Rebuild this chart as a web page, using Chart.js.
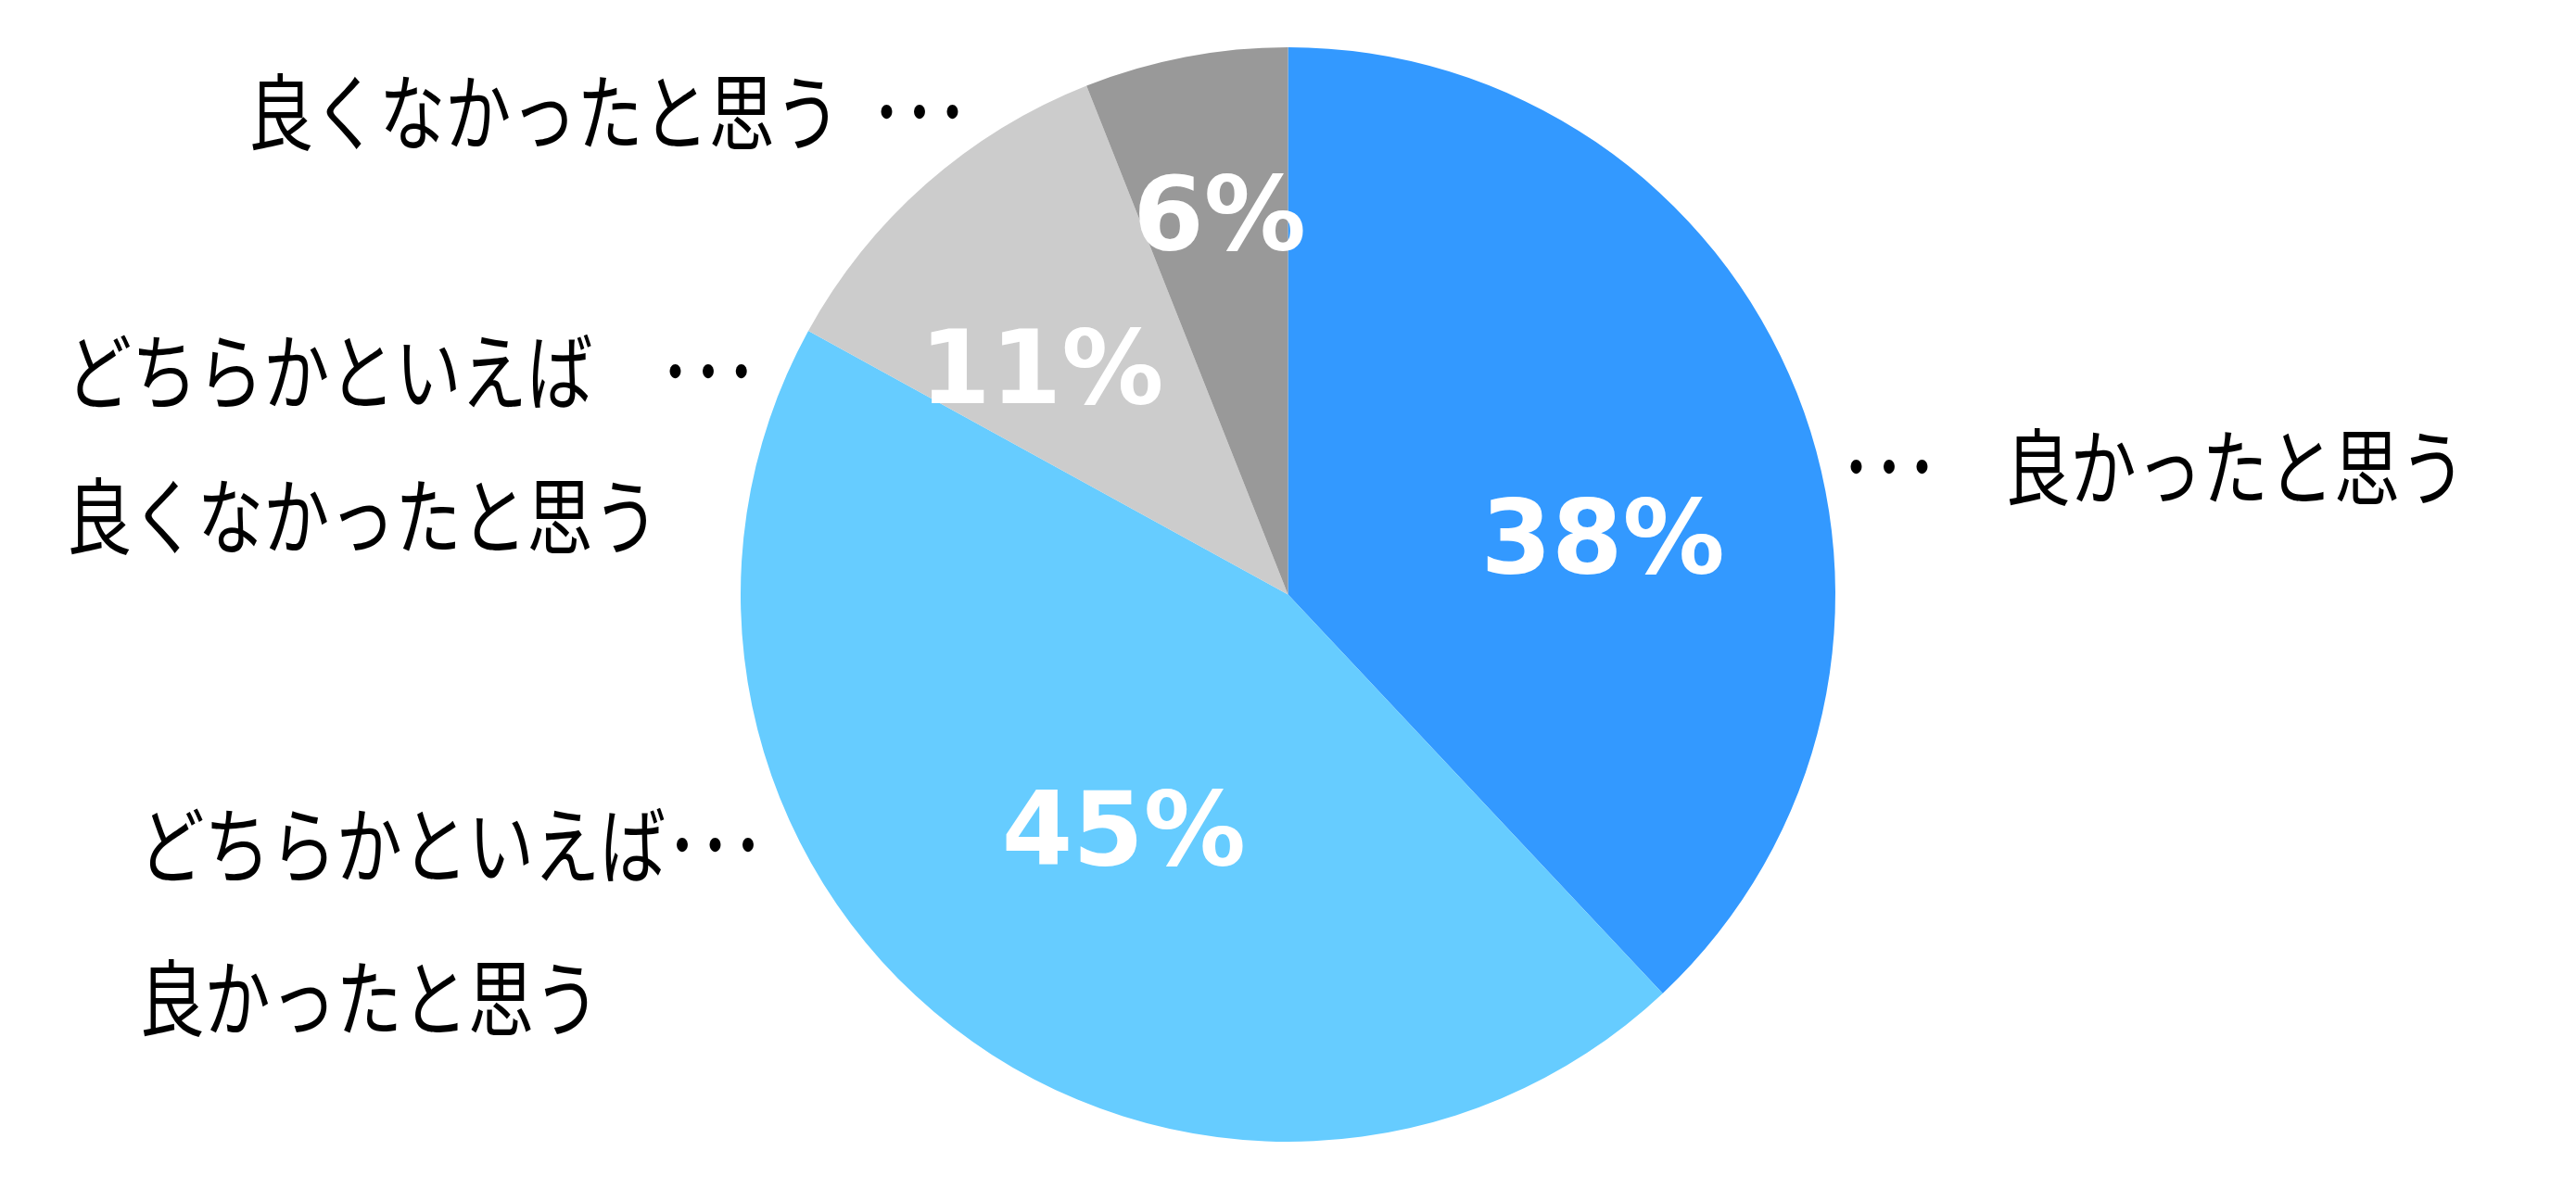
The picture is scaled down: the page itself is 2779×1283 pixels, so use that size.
<!DOCTYPE html>
<html lang="ja">
<head>
  <meta charset="UTF-8">
  <title>円グラフ</title>
  <script src="https://cdn.jsdelivr.net/npm/chart.js"></script>
  <style>
    html, body { margin: 0; padding: 0; background: #fff; }
    #wrap { width: 2779px; height: 1283px; }
  </style>
</head>
<body>
<div id="wrap"><canvas id="grafica" width="2779" height="1283"></canvas></div>
<script>
// datos
const categorias = ['良かったと思う', 'どちらかといえば良かったと思う', 'どちらかといえば良くなかったと思う', '良くなかったと思う'];
const valores = [38, 45, 11, 6];
const colores = ['#3399FF', '#66CCFF', '#CCCCCC', '#999999'];

// textos exteriores (una lista de lineas por sector)
const etiquetas = [
  ['･･･　良かったと思う'],
  ['どちらかといえば･･･', '良かったと思う'],
  ['どちらかといえば　･･･', '良くなかったと思う'],
  ['良くなかったと思う  ･･･']
];

// posicion de los textos, en radios desde el centro
const posPorcentaje = [[0.575, -0.088], [-0.300, 0.445], [-0.450, -0.398], [-0.125, -0.679]];
const posEtiqueta = [[1.008, -0.233], [-2.100, 0.458], [-2.233, -0.407], [-1.901, -0.881]];
const saltoLinea = [0, 0.279, 0.264, 0];

const textos = {
  id: 'textos',
  afterDatasetsDraw(chart) {
    const ctx = chart.ctx;
    const arco = chart.getDatasetMeta(0).data[0];
    const cx = arco.x, cy = arco.y, r = arco.outerRadius;
    const total = valores.reduce((a, b) => a + b, 0);

    ctx.save();
    ctx.textBaseline = 'middle';

    // porcentajes
    ctx.fillStyle = '#fff';
    ctx.textAlign = 'center';
    ctx.font = 'bold 110px "DejaVu Sans"';
    valores.forEach((v, i) => {
      const p = posPorcentaje[i];
      ctx.fillText(Math.round(v / total * 100) + '%', cx + p[0] * r, cy + p[1] * r);
    });

    // etiquetas
    ctx.fillStyle = '#000';
    ctx.textAlign = 'left';
    ctx.font = '90px "Noto Sans CJK JP"';
    etiquetas.forEach((lineas, i) => {
      const p = posEtiqueta[i];
      lineas.forEach((t, j) => {
        ctx.save();
        ctx.translate(cx + p[0] * r, cy + (p[1] + j * saltoLinea[i]) * r);
        ctx.scale(0.79, 1);
        ctx.fillText(t, 0, 0);
        ctx.restore();
      });
    });
    ctx.restore();
  }
};

new Chart(document.getElementById('grafica'), {
  type: 'pie',
  data: {
    labels: categorias,
    datasets: [{ data: valores, backgroundColor: colores, borderWidth: 0 }]
  },
  options: {
    responsive: false,
    devicePixelRatio: 1,
    animation: false,
    layout: { padding: { top: 51, bottom: 51 } },
    plugins: { legend: { display: false }, tooltip: { enabled: false } }
  },
  plugins: [textos]
});
</script>
</body>
</html>
